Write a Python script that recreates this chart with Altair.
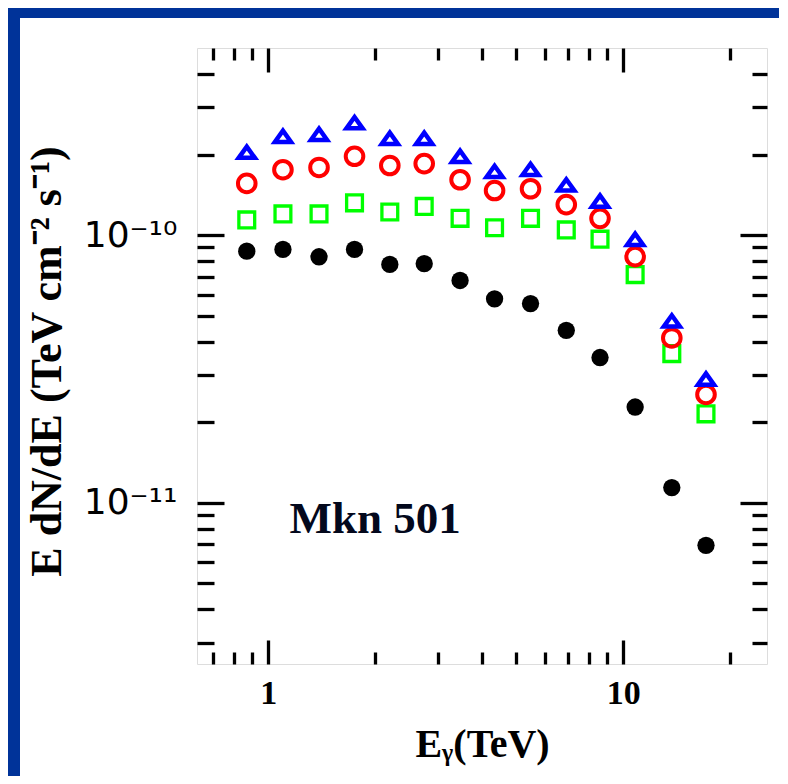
import altair as alt
import pandas as pd

# ---- data ----
energy = [0.87, 1.10, 1.39, 1.75, 2.20, 2.75, 3.47, 4.34, 5.48, 6.91, 8.60, 10.8, 13.7, 17.1]
flux_black = [8.71e-11, 8.84e-11, 8.30e-11, 8.84e-11, 7.77e-11, 7.82e-11, 6.77e-11,
              5.78e-11, 5.55e-11, 4.41e-11, 3.49e-11, 2.28e-11, 1.14e-11, 6.94e-12]
flux_green = [1.14e-10, 1.20e-10, 1.20e-10, 1.32e-10, 1.22e-10, 1.28e-10, 1.155e-10,
              1.066e-10, 1.155e-10, 1.046e-10, 9.66e-11, 7.12e-11, 3.61e-11, 2.15e-11]
flux_red = [1.56e-10, 1.755e-10, 1.79e-10, 1.97e-10, 1.82e-10, 1.85e-10, 1.61e-10,
            1.467e-10, 1.49e-10, 1.30e-10, 1.155e-10, 8.31e-11, 4.13e-11, 2.54e-11]
flux_blue = [2.04e-10, 2.34e-10, 2.38e-10, 2.63e-10, 2.30e-10, 2.30e-10, 1.97e-10,
             1.73e-10, 1.76e-10, 1.54e-10, 1.34e-10, 9.64e-11, 4.78e-11, 2.90e-11]

x_major = [1, 10]
x_minor = [0.7, 0.8, 0.9, 2, 3, 4, 5, 6, 7, 8, 9, 20]
y_major = [1e-11, 1e-10]
y_minor = [3e-12, 4e-12, 5e-12, 6e-12, 7e-12, 8e-12, 9e-12,
           2e-11, 3e-11, 4e-11, 5e-11, 6e-11, 7e-11, 8e-11, 9e-11,
           2e-10, 3e-10, 4e-10]
x_domain = [0.63, 25.4]
y_domain = [2.5e-12, 5e-10]

label_text = ["Mkn 501"]
label_E = [1.148]
label_F = [7.7e-12]

W, H = 570, 616
PAD = {"left": 189, "top": 40, "right": 12, "bottom": 112}

xscale = alt.Scale(type="log", domain=x_domain, nice=False)
yscale = alt.Scale(type="log", domain=y_domain, nice=False)


def tick_axis(orient, values, size):
    off = -(H if orient in ("top", "bottom") else W)
    return alt.Axis(orient=orient, offset=off, values=values, tickSize=size,
                    tickWidth=3.3, tickColor="black", labels=False, domain=False,
                    grid=False, title=None, zindex=1)


xlab = alt.Axis(orient="bottom", values=x_major,
                labelExpr="datum.value >= 5 ? '10' : '1'",
                ticks=False, tickSize=0, domain=False, grid=False, labelFlush=False,
                labelFont="Liberation Serif", labelFontWeight="bold", labelFontSize=34,
                labelColor="black", labelPadding=12,
                title="Eᵧ(TeV)", titleFont="Liberation Serif", titleFontWeight="bold",
                titleFontSize=40, titleColor="black", titleX=W / 2, titleY=80,
                titleAlign="center", titleBaseline="middle", zindex=1)
ylab = alt.Axis(orient="left", values=y_major,
                labelExpr="datum.value < 5e-11 ? '10⁻¹¹' : '10⁻¹⁰'",
                ticks=False, tickSize=0, domain=False, grid=False, labelFlush=False,
                labelFont="DejaVu Sans", labelFontSize=36, labelColor="black",
                labelPadding=20,
                title="E dN/dE (TeV cm⁻² s⁻¹)", titleFont="Liberation Serif",
                titleFontWeight="bold", titleFontSize=44, titleColor="black",
                titleAngle=270, titleX=-150, titleY=313, titleAlign="center",
                titleBaseline="middle", zindex=1)


def series_df(flux):
    return pd.DataFrame({"E": energy, "F": flux})


one = pd.DataFrame({"k": [0]})
stripe_top = alt.Chart(one).mark_rect(color="#003399").encode(
    x=alt.value(-PAD["left"]), x2=alt.value(W + PAD["right"]),
    y=alt.value(-PAD["top"]), y2=alt.value(-PAD["top"] + 10))
stripe_left = alt.Chart(one).mark_rect(color="#003399").encode(
    x=alt.value(-PAD["left"]), x2=alt.value(-PAD["left"] + 12),
    y=alt.value(-PAD["top"]), y2=alt.value(H + PAD["bottom"]))

black = alt.Chart(series_df(flux_black)).mark_circle(
    size=300, color="black", opacity=1).encode(
    x=alt.X("E:Q", scale=xscale, axis=xlab),
    y=alt.Y("F:Q", scale=yscale, axis=ylab))

green = alt.Chart(series_df(flux_green)).mark_point(
    shape="square", size=250, filled=False, color="#00ff00", strokeWidth=3.3,
    opacity=1).encode(
    x=alt.X("E:Q", scale=xscale, axis=tick_axis("top", x_major, 24)),
    y=alt.Y("F:Q", scale=yscale, axis=tick_axis("right", y_major, 27)))

red = alt.Chart(series_df(flux_red)).mark_point(
    shape="circle", size=310, filled=False, color="#ff0000", strokeWidth=4,
    opacity=1).encode(
    x=alt.X("E:Q", scale=xscale, axis=tick_axis("top", x_minor, 12)),
    y=alt.Y("F:Q", scale=yscale, axis=tick_axis("right", y_minor, 17)))

blue = alt.Chart(series_df(flux_blue)).mark_point(
    shape="M-1,0.7L1,0.7L0,-0.7Z", size=260, filled=False, color="#0000ff",
    strokeWidth=4.5, opacity=1).encode(
    x=alt.X("E:Q", scale=xscale, axis=tick_axis("bottom", x_major, 24)),
    y=alt.Y("F:Q", scale=yscale, axis=tick_axis("left", y_major, 27)))

label = alt.Chart(pd.DataFrame({"E": label_E, "F": label_F, "t": label_text})).mark_text(
    font="Liberation Serif", fontWeight="bold", fontSize=45, color="#03081c",
    align="left", baseline="alphabetic").encode(
    x=alt.X("E:Q", scale=xscale, axis=tick_axis("bottom", x_minor, 12)),
    y=alt.Y("F:Q", scale=yscale, axis=tick_axis("left", y_minor, 15)),
    text="t:N")

chart = alt.layer(stripe_top, stripe_left, black, green, red, blue, label).resolve_axis(
    x="independent", y="independent").properties(
    width=W, height=H, padding=PAD,
    autosize=alt.AutoSizeParams(type="none")).configure_view(
    stroke="black", strokeWidth=3.5).configure(background="white")

chart.save("out.html", embed_options={"renderer": "svg", "actions": False})
